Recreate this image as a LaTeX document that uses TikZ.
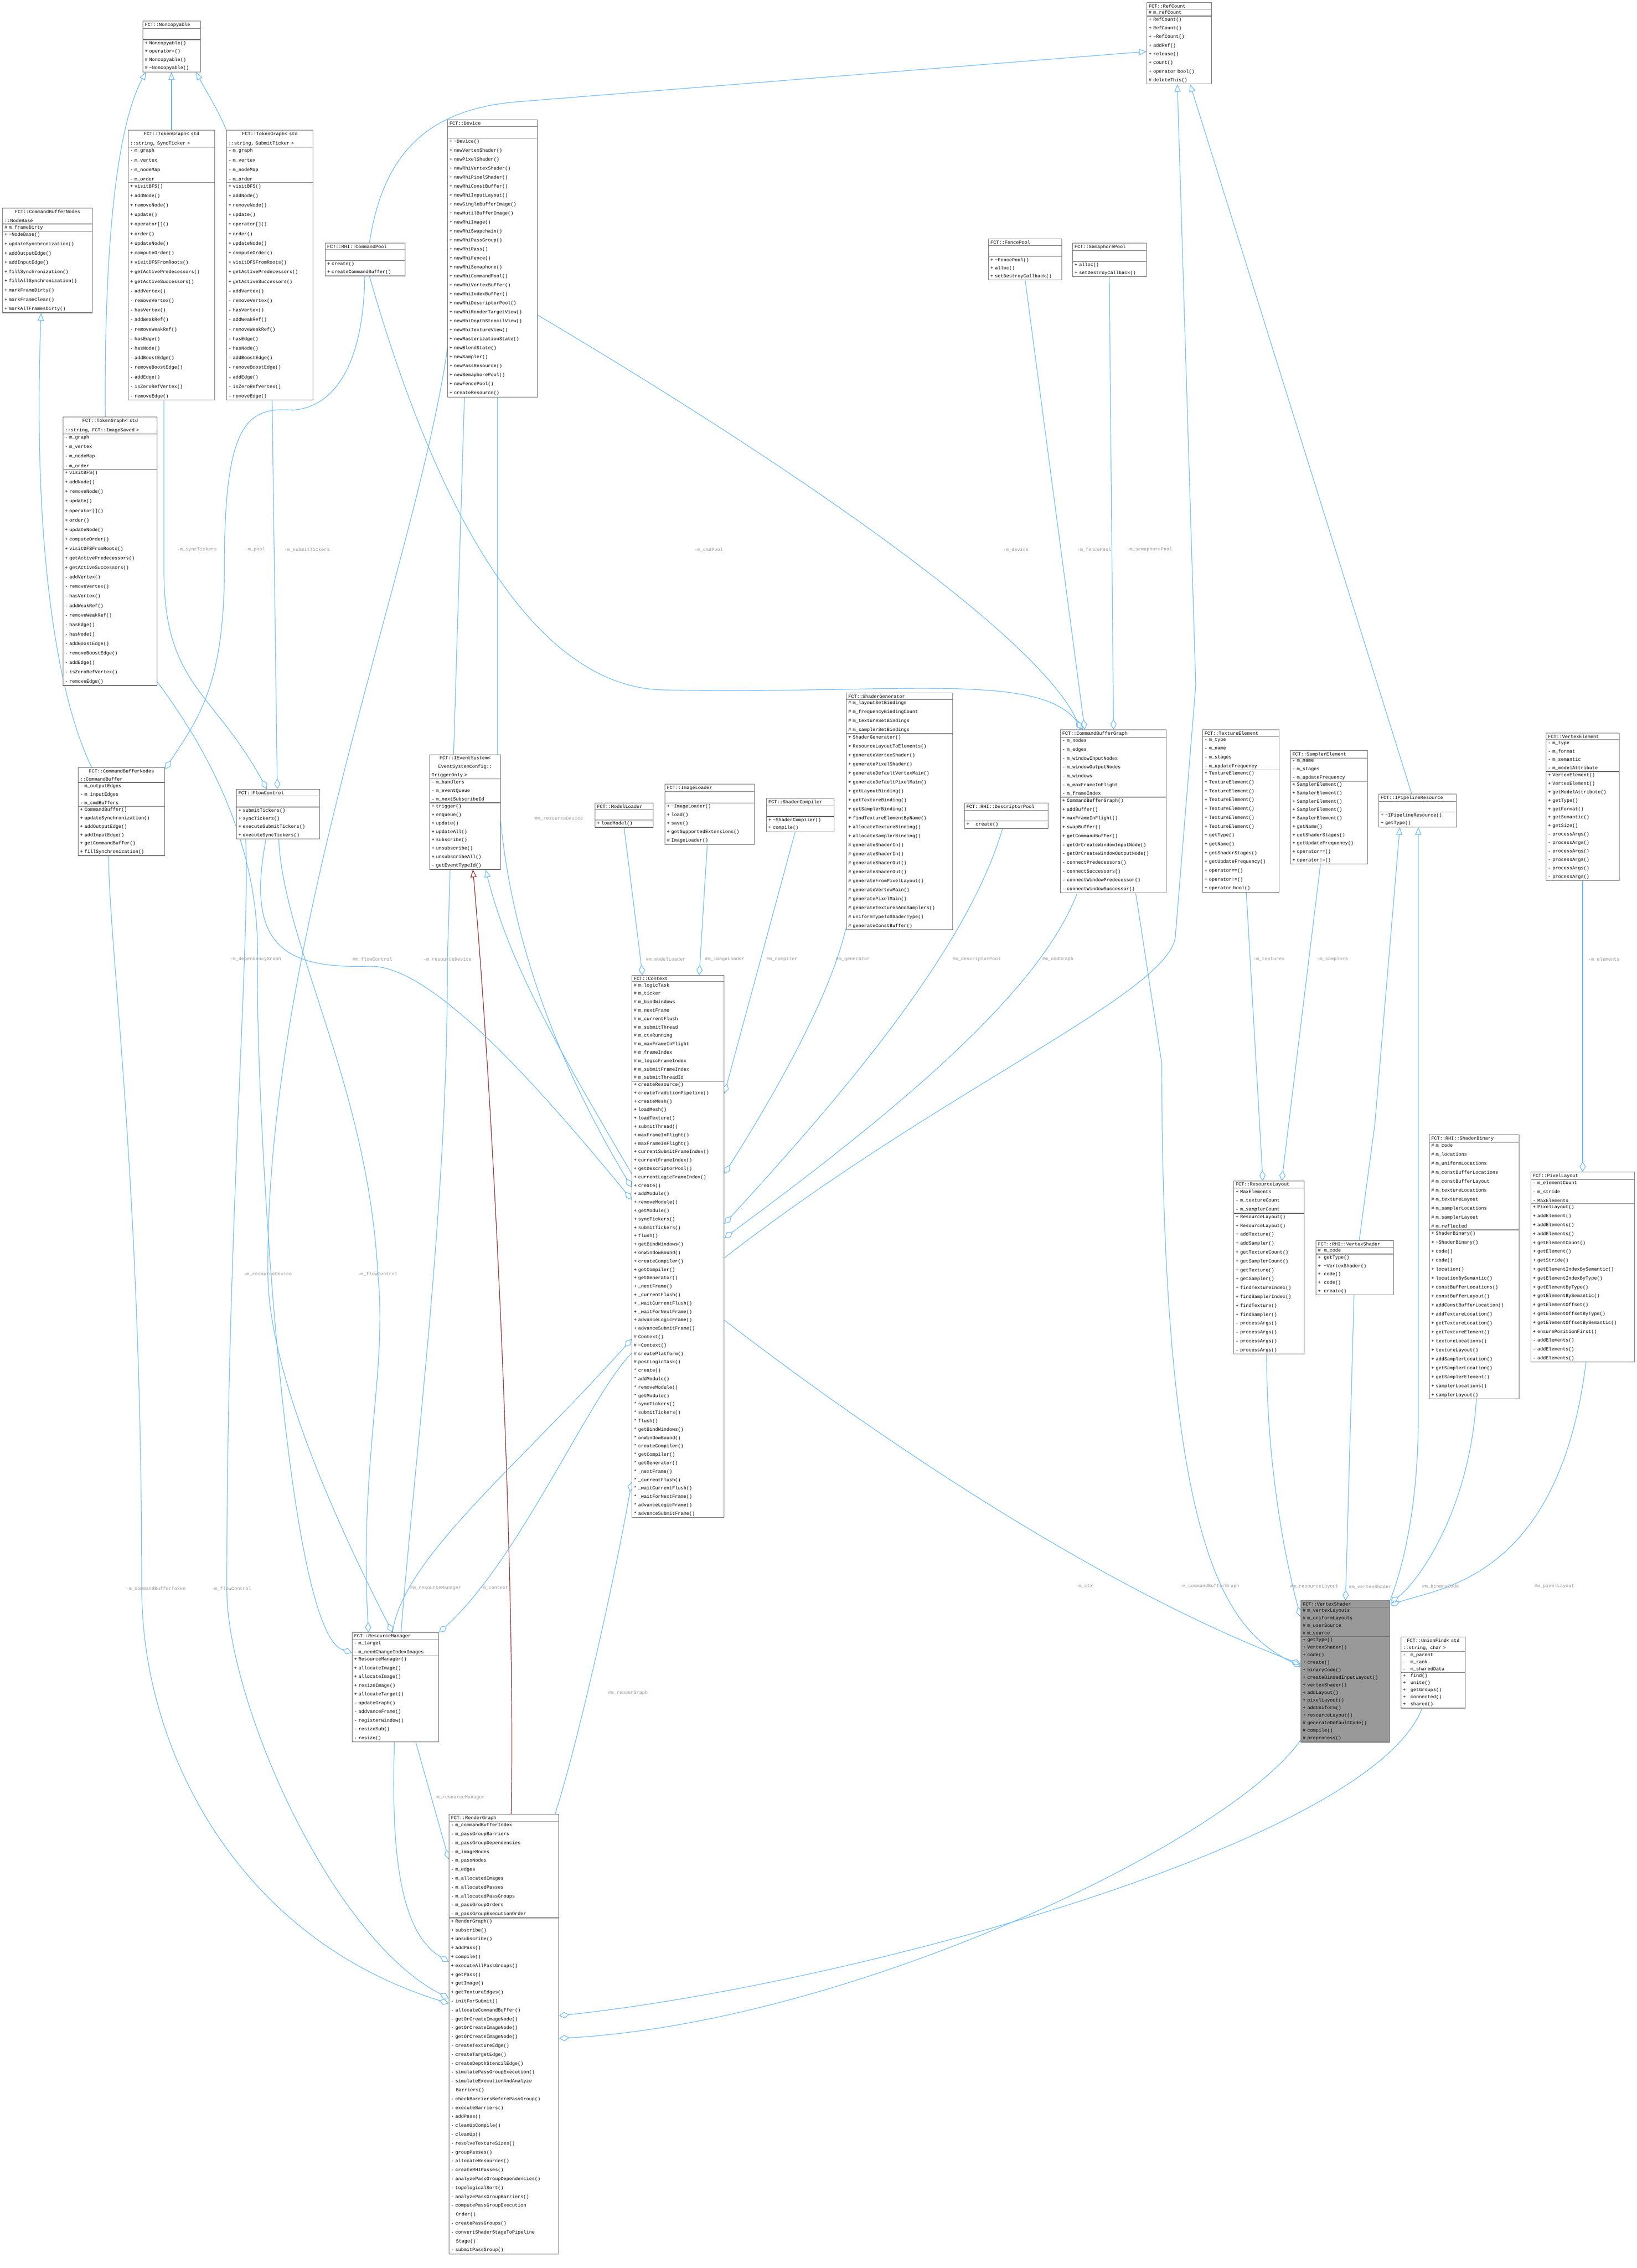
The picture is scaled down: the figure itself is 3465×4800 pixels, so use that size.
\documentclass[tikz,border=0pt]{standalone}
\usepackage{fontspec}
\newfontfamily\mono{Liberation Mono}
\usetikzlibrary{shapes.multipart,arrows.meta,calc}
\definecolor{edgec}{RGB}{99,184,255}
\definecolor{labc}{RGB}{150,150,150}
\definecolor{boxc}{RGB}{105,105,105}
\definecolor{redc}{RGB}{139,26,26}
\definecolor{vsfill}{RGB}{153,153,153}
\pgfdeclarelayer{bg}\pgfsetlayers{bg,main}
\tikzset{
 cls/.style={rectangle split, rectangle split parts=3, draw=boxc, line width=1.3pt, fill=white, anchor=north west, inner xsep=4pt, inner ysep=2.5pt, align=left},
 inh/.style={draw=edgec, line width=1.2pt, -{Triangle[open,length=16pt,width=13pt]}},
 inhred/.style={draw=redc, line width=1.2pt, -{Triangle[open,length=16pt,width=13pt]}},
 use/.style={draw=edgec, line width=1.2pt, {Diamond[open,length=22pt,width=13pt]}-},
 lab/.style={text=labc, font=\mono\fontsize{10}{12}\selectfont, inner sep=0pt}
}
\newcommand\cls[9]{\node[cls,#9,text width=#4pt,font=\mono\fontsize{10}{#5}\selectfont] (#1) at (#2,#3) {\centering #6\nodepart{second}#7\nodepart{third}#8};}
\newcommand\tl{\textasciitilde}
\newcommand\st{\char`\*}
\begin{document}
\begin{tikzpicture}[x=1pt,y=-1pt]
\useasboundingbox (0,0) rectangle (3465,4800);
\begin{pgfonlayer}{bg}
\fill[white] (0,0) rectangle (3465,4800);
\end{pgfonlayer}

\cls{noncop}{302}{44}{114}{17.5}{FCT::Noncopyable}{\strut}{+ Noncopyable()\\+ operator=()\\\# Noncopyable()\\\# \tl Noncopyable()}{}
\cls{sync}{271}{275}{175}{20.2}{FCT::TokenGraph< std\\::string, SyncTicker >}{- m\_graph\\- m\_vertex\\- m\_nodeMap\\- m\_order}{+ visitBFS()\\+ addNode()\\+ removeNode()\\+ update()\\+ operator[]()\\+ order()\\+ updateNode()\\+ computeOrder()\\+ visitDFSFromRoots()\\+ getActivePredecessors()\\+ getActiveSuccessors()\\- addVertex()\\- removeVertex()\\- hasVertex()\\- addWeakRef()\\- removeWeakRef()\\- hasEdge()\\- hasNode()\\- addBoostEdge()\\- removeBoostEdge()\\- addEdge()\\- isZeroRefVertex()\\- removeEdge()}{}
\cls{submit}{479}{275}{175}{20.2}{FCT::TokenGraph< std\\::string, SubmitTicker >}{- m\_graph\\- m\_vertex\\- m\_nodeMap\\- m\_order}{+ visitBFS()\\+ addNode()\\+ removeNode()\\+ update()\\+ operator[]()\\+ order()\\+ updateNode()\\+ computeOrder()\\+ visitDFSFromRoots()\\+ getActivePredecessors()\\+ getActiveSuccessors()\\- addVertex()\\- removeVertex()\\- hasVertex()\\- addWeakRef()\\- removeWeakRef()\\- hasEdge()\\- hasNode()\\- addBoostEdge()\\- removeBoostEdge()\\- addEdge()\\- isZeroRefVertex()\\- removeEdge()}{}
\cls{nodebase}{5}{440}{182}{19.6}{FCT::CommandBufferNodes\\::NodeBase}{\# m\_frameDirty}{+ \tl NodeBase()\\+ updateSynchronization()\\+ addOutputEdge()\\+ addInputEdge()\\+ fillSynchronization()\\+ fillAllSynchronization()\\+ markFrameDirty()\\+ markFrameClean()\\+ markAllFramesDirty()}{}
\cls{imgsaved}{133}{882}{191}{20.1}{FCT::TokenGraph< std\\::string, FCT::ImageSaved >}{- m\_graph\\- m\_vertex\\- m\_nodeMap\\- m\_order}{+ visitBFS()\\+ addNode()\\+ removeNode()\\+ update()\\+ operator[]()\\+ order()\\+ updateNode()\\+ computeOrder()\\+ visitDFSFromRoots()\\+ getActivePredecessors()\\+ getActiveSuccessors()\\- addVertex()\\- removeVertex()\\- hasVertex()\\- addWeakRef()\\- removeWeakRef()\\- hasEdge()\\- hasNode()\\- addBoostEdge()\\- removeBoostEdge()\\- addEdge()\\- isZeroRefVertex()\\- removeEdge()}{}
\cls{cmdbuf}{165}{1624}{175}{17.8}{FCT::CommandBufferNodes\\::CommandBuffer}{- m\_outputEdges\\- m\_inputEdges\\- m\_cmdBuffers}{+ CommandBuffer()\\+ updateSynchronization()\\+ addOutputEdge()\\+ addInputEdge()\\+ getCommandBuffer()\\+ fillSynchronization()}{}
\cls{flow}{500}{1670}{168}{17.3}{FCT::FlowControl}{\strut}{+ submitTickers()\\+ syncTickers()\\+ executeSubmitTickers()\\+ executeSyncTickers()}{}
\cls{cmdpool}{688}{514}{161}{16.8}{FCT::RHI::CommandPool}{\strut}{+ create()\\+ createCommandBuffer()}{}
\cls{device}{947}{253}{182}{19}{FCT::Device}{\strut}{+ \tl Device()\\+ newVertexShader()\\+ newPixelShader()\\+ newRhiVertexShader()\\+ newRhiPixelShader()\\+ newRhiConstBuffer()\\+ newRhiInputLayout()\\+ newSingleBufferImage()\\+ newMutilBufferImage()\\+ newRhiImage()\\+ newRhiSwapchain()\\+ newRhiPassGroup()\\+ newRhiPass()\\+ newRhiFence()\\+ newRhiSemaphore()\\+ newRhiCommandPool()\\+ newRhiVertexBuffer()\\+ newRhiIndexBuffer()\\+ newRhiDescriptorPool()\\+ newRhiRenderTargetView()\\+ newRhiDepthStencilView()\\+ newRhiTextureView()\\+ newRasterizationState()\\+ newBlendState()\\+ newSampler()\\+ newPassResource()\\+ newSemaphorePool()\\+ newFencePool()\\+ createResource()}{}
\cls{refcount}{2427}{5}{129}{18.3}{FCT::RefCount}{\# m\_refCount}{+ RefCount()\\+ RefCount()\\+ \tl RefCount()\\+ addRef()\\+ release()\\+ count()\\+ operator bool()\\\# deleteThis()}{}
\cls{fence}{2092}{505}{147}{17.2}{FCT::FencePool}{\strut}{+ \tl FencePool()\\+ alloc()\\+ setDestroyCallback()}{}
\cls{sema}{2270}{514}{148}{16.8}{FCT::SemaphorePool}{\strut}{+ alloc()\\+ setDestroyCallback()}{}
\cls{ievent}{909}{1597}{142}{17.9}{FCT::IEventSystem<\\EventSystemConfig::\\TriggerOnly >}{- m\_handlers\\- m\_eventQueue\\- m\_nextSubscribeId}{+ trigger()\\+ enqueue()\\+ update()\\+ updateAll()\\+ subscribe()\\+ unsubscribe()\\+ unsubscribeAll()\\- getEventTypeId()}{}
\cls{model}{1259}{1699}{115}{15.7}{FCT::ModelLoader}{\strut}{+ loadModel()}{}
\cls{imgload}{1407}{1659}{181}{18}{FCT::ImageLoader}{\strut}{+ \tl ImageLoader()\\+ load()\\+ save()\\+ getSupportedExtensions()\\\# ImageLoader()}{}
\cls{shcomp}{1622}{1689}{135}{16.5}{FCT::ShaderCompiler}{\strut}{+ \tl ShaderCompiler()\\+ compile()}{}
\cls{shgen}{1791}{1466}{217}{19}{FCT::ShaderGenerator}{\# m\_layoutSetBindings\\\# m\_frequencyBindingCount\\\# m\_textureSetBindings\\\# m\_samplerSetBindings}{+ ShaderGenerator()\\+ ResourceLayoutToElements()\\+ generateVertexShader()\\+ generatePixelShader()\\+ generateDefaultVertexMain()\\+ generateDefaultPixelMain()\\+ getLayoutBinding()\\+ getTextureBinding()\\+ getSamplerBinding()\\+ findTextureElementByName()\\+ allocateTextureBinding()\\+ allocateSamplerBinding()\\\# generateShaderIn()\\\# generateShaderIn()\\\# generateShaderOut()\\\# generateShaderOut()\\\# generateFromPixelLayout()\\\# generateVertexMain()\\\# generatePixelMain()\\\# generateTexturesAndSamplers()\\\# uniformTypeToShaderType()\\\# generateConstBuffer()}{}
\cls{descpool}{2041}{1699}{169}{15.7}{FCT::RHI::DescriptorPool}{\strut}{+ \quad create()}{}
\cls{cbg}{2244}{1544}{216}{18.7}{FCT::CommandBufferGraph}{- m\_nodes\\- m\_edges\\- m\_windowInputNodes\\- m\_windowOutputNodes\\- m\_windows\\- m\_maxFrameInFlight\\- m\_frameIndex}{+ CommandBufferGraph()\\+ addBuffer()\\+ maxFrameInFlight()\\+ swapBuffer()\\+ getCommandBuffer()\\- getOrCreateWindowInputNode()\\- getOrCreateWindowOutputNode()\\- connectPredecessors()\\- connectSuccessors()\\- connectWindowPredecessor()\\- connectWindowSuccessor()}{}
\cls{texel}{2545}{1544}{154}{18.7}{FCT::TextureElement}{- m\_type\\- m\_name\\- m\_stages\\- m\_updateFrequency}{+ TextureElement()\\+ TextureElement()\\+ TextureElement()\\+ TextureElement()\\+ TextureElement()\\+ TextureElement()\\+ TextureElement()\\+ getType()\\+ getName()\\+ getShaderStages()\\+ getUpdateFrequency()\\+ operator==()\\+ operator!=()\\+ operator bool()}{}
\cls{samel}{2731}{1588}{155}{17.7}{FCT::SamplerElement}{- m\_name\\- m\_stages\\- m\_updateFrequency}{+ SamplerElement()\\+ SamplerElement()\\+ SamplerElement()\\+ SamplerElement()\\+ SamplerElement()\\+ getName()\\+ getShaderStages()\\+ getUpdateFrequency()\\+ operator==()\\+ operator!=()}{}
\cls{ipr}{2918}{1680}{156}{16}{FCT::IPipelineResource}{\strut}{+ \tl IPipelineResource()\\+ getType()}{}
\cls{vertel}{3272}{1551}{147}{17.9}{FCT::VertexElement}{- m\_type\\- m\_format\\- m\_semantic\\- m\_modelAttribute}{+ VertexElement()\\+ VertexElement()\\+ getModelAttribute()\\+ getType()\\+ getFormat()\\+ getSemantic()\\+ getSize()\\- processArgs()\\- processArgs()\\- processArgs()\\- processArgs()\\- processArgs()\\- processArgs()}{}
\cls{rlayout}{2611}{2499}{141}{18.8}{FCT::ResourceLayout}{+ MaxElements\\- m\_textureCount\\- m\_samplerCount}{+ ResourceLayout()\\+ ResourceLayout()\\+ addTexture()\\+ addSampler()\\+ getTextureCount()\\+ getSamplerCount()\\+ getTexture()\\+ getSampler()\\+ findTextureIndex()\\+ findSamplerIndex()\\+ findTexture()\\+ findSampler()\\- processArgs()\\- processArgs()\\- processArgs()\\- processArgs()}{}
\cls{rhivs}{2785}{2625}{156}{17.7}{FCT::RHI::VertexShader}{\# \ m\_code}{+ \ getType()\\+ \ \tl VertexShader()\\+ \ code()\\+ \ code()\\+ \ create()}{}
\cls{shbin}{3025}{2401}{182}{19}{FCT::RHI::ShaderBinary}{\# m\_code\\\# m\_locations\\\# m\_uniformLocations\\\# m\_constBufferLocations\\\# m\_constBufferLayout\\\# m\_textureLocations\\\# m\_textureLayout\\\# m\_samplerLocations\\\# m\_samplerLayout\\\# m\_reflected}{+ ShaderBinary()\\+ \tl ShaderBinary()\\+ code()\\+ code()\\+ location()\\+ locationBySemantic()\\+ constBufferLocations()\\+ constBufferLayout()\\+ addConstBufferLocation()\\+ addTextureLocation()\\+ getTextureLocation()\\+ getTextureElement()\\+ textureLocations()\\+ textureLayout()\\+ addSamplerLocation()\\+ getSamplerLocation()\\+ getSamplerElement()\\+ samplerLocations()\\+ samplerLayout()}{}
\cls{pixl}{3240}{2480}{211}{18.8}{FCT::PixelLayout}{- m\_elementCount\\- m\_stride\\- MaxElements}{+ PixelLayout()\\+ addElement()\\+ addElements()\\+ addElements()\\+ getElementCount()\\+ getElement()\\+ getStride()\\+ getElementIndexBySemantic()\\+ getElementIndexByType()\\+ getElementByType()\\+ getElementBySemantic()\\+ getElementOffset()\\+ getElementOffsetByType()\\+ getElementOffsetBySemantic()\\+ ensurePositionFirst()\\- addElements()\\- addElements()\\- addElements()}{}
\cls{vs}{2753}{3387}{180}{16}{FCT::VertexShader}{\# m\_vertexLayouts\\\# m\_uniformLayouts\\\# m\_userSource\\\# m\_source}{+ getType()\\+ VertexShader()\\+ code()\\+ create()\\+ binaryCode()\\+ createBindedInputLayout()\\+ vertexShader()\\+ addLayout()\\+ pixelLayout()\\+ addUniform()\\+ resourceLayout()\\\# generateDefaultCode()\\\# compile()\\\# preprocess()}{fill=vsfill}
\cls{uf}{2965}{3464}{128}{15}{FCT::UnionFind< std\\::string, char >}{- \ \ m\_parent\\- \ \ m\_rank\\- \ \ m\_sharedData}{+ \ \ find()\\+ \ \ unite()\\+ \ \ getGroups()\\+ \ \ connected()\\+ \ \ shared()}{}
\cls{rm}{745}{3455}{175}{18.5}{FCT::ResourceManager}{- m\_target\\- m\_needChangeIndexImages}{+ ResourceManager()\\+ allocateImage()\\+ allocateImage()\\+ resizeImage()\\+ allocateTarget()\\- updateGraph()\\- addvanceFrame()\\- registerWindow()\\- resizeSub()\\- resize()}{}
\cls{rg}{950}{3839}{224}{18.8}{FCT::RenderGraph}{- m\_commandBufferIndex\\- m\_passGroupBarriers\\- m\_passGroupDependencies\\- m\_imageNodes\\- m\_passNodes\\- m\_edges\\- m\_allocatedImages\\- m\_allocatedPasses\\- m\_allocatedPassGroups\\- m\_passGroupOrders\\- m\_passGroupExecutionOrder}{+ RenderGraph()\\+ subscribe()\\+ unsubscribe()\\+ addPass()\\+ compile()\\+ executeAllPassGroups()\\+ getPass()\\+ getImage()\\+ getTextureEdges()\\- initForSubmit()\\- allocateCommandBuffer()\\- getOrCreateImageNode()\\- getOrCreateImageNode()\\- getOrCreateImageNode()\\- createTextureEdge()\\- createTargetEdge()\\- createDepthStencilEdge()\\- simulatePassGroupExecution()\\- simulateExecutionAndAnalyze\\\hspace*{2ex}Barriers()\\- checkBarriersBeforePassGroup()\\- executeBarriers()\\- addPass()\\- cleanUpCompile()\\- cleanUp()\\- resolveTextureSizes()\\- groupPasses()\\- allocateResources()\\- createRHIPasses()\\- analyzePassGroupDependencies()\\- topologicalSort()\\- analyzePassGroupBarriers()\\- computePassGroupExecution\\\hspace*{2ex}Order()\\- createPassGroups()\\- convertShaderStageToPipeline\\\hspace*{2ex}Stage()\\- submitPassGroup()}{}
\cls{ctx}{1337}{2064}{187}{17.8}{FCT::Context}{\# m\_logicTask\\\# m\_ticker\\\# m\_bindWindows\\\# m\_nextFrame\\\# m\_currentFlush\\\# m\_submitThread\\\# m\_ctxRunning\\\# m\_maxFrameInFlight\\\# m\_frameIndex\\\# m\_logicFrameIndex\\\# m\_submitFrameIndex\\\# m\_submitThreadId}{+ createResource()\\+ createTraditionPipeline()\\+ createMesh()\\+ loadMesh()\\+ loadTexture()\\+ submitThread()\\+ maxFrameInFlight()\\+ maxFrameInFlight()\\+ currentSubmitFrameIndex()\\+ currentFrameIndex()\\+ getDescriptorPool()\\+ currentLogicFrameIndex()\\+ create()\\+ addModule()\\+ removeModule()\\+ getModule()\\+ syncTickers()\\+ submitTickers()\\+ flush()\\+ getBindWindows()\\+ onWindowBound()\\+ createCompiler()\\+ getCompiler()\\+ getGenerator()\\+ \_nextFrame()\\+ \_currentFlush()\\+ \_waitCurrentFlush()\\+ \_waitForNextFrame()\\+ advanceLogicFrame()\\+ advanceSubmitFrame()\\\# Context()\\\# \tl Context()\\\# createPlatform()\\\# postLogicTask()\\\st{} create()\\\st{} addModule()\\\st{} removeModule()\\\st{} getModule()\\\st{} syncTickers()\\\st{} submitTickers()\\\st{} flush()\\\st{} getBindWindows()\\\st{} onWindowBound()\\\st{} createCompiler()\\\st{} getCompiler()\\\st{} getGenerator()\\\st{} \_nextFrame()\\\st{} \_currentFlush()\\\st{} \_waitCurrentFlush()\\\st{} \_waitForNextFrame()\\\st{} advanceLogicFrame()\\\st{} advanceSubmitFrame()}{}

\begin{pgfonlayer}{bg}
% inheritance
\draw[inh] ($(sync.north west)+(92,0)$) -- ($(noncop.south west)+(61,0)$);
\draw[inh] (submit.north west) .. controls (460,230) and (440,200) .. ($(noncop.south east)+(-10,0)$);
\draw[inh] ($(imgsaved.north west)+(90,0)$) .. controls (220,500) and (250,260) .. ($(noncop.south west)+(7,0)$);
\draw[inh] ($(cmdbuf.north west)+(29,0)$) .. controls (110,1450) and (70,1100) .. ($(nodebase.south west)+(82,0)$);
\draw[inh] ($(cmdpool.north west)+(94,0)$) .. controls (810,330) and (900,230) .. (1100,215) -- ($(refcount.north west)+(0,104)$);
\draw[inh] ($(ctx.north east)+(0,598)$) .. controls (2000,2300) and (2480,2100) .. (2488,1980) -- (2531,1450) -- ($(refcount.south west)+(65,0)$);
\draw[inh] ($(ipr.north west)+(70,0)$) -- ($(refcount.south west)+(92,0)$);
\draw[inh] ($(rhivs.north west)+(92,0)$) -- (2910,2380) -- ($(ipr.south west)+(45,0)$);
\draw[inh] (vs.north east) .. controls (2965,3330) and (3002,3200) .. (3002,3000) -- ($(ipr.south west)+(84,0)$);
\draw[inhred] ($(rg.north west)+(132,0)$) .. controls (1092,3400) and (1050,2400) .. ($(ievent.south west)+(92,0)$);
\draw[inh] ($(ctx.north west)+(0,420)$) .. controls (1200,2250) and (1080,2050) .. ($(ievent.south west)+(119,0)$);
% usage
\draw[use] ($(flow.north west)+(65,0)$) .. controls (450,1460) and (345,1450) .. (347,1200) -- ($(sync.south west)+(76,0)$);
\draw[use] ($(flow.north west)+(87,0)$) -- ($(submit.south west)+(97,0)$);
\draw[use] ($(cmdbuf.north east)+(0,4)$) .. controls (420,1520) and (475,1450) .. (475,1200) .. controls (475,900) and (520,860) .. (620,868) .. controls (720,860) and (770,750) .. ($(cmdpool.south west)+(84,0)$);
\draw[use] ($(cbg.north west)+(44,0)$) .. controls (2200,1350) and (1700,1000) .. ($(device.north east)+(0,414)$);
\draw[use] ($(cbg.north west)+(48,0)$) .. controls (2200,1420) and (1900,1470) .. (1400,1460) .. controls (1100,1450) and (900,1000) .. ($(cmdpool.south west)+(94,0)$);
\draw[use] ($(cbg.north west)+(52,0)$) -- ($(fence.south west)+(78,0)$);
\draw[use] ($(cbg.north west)+(113,0)$) -- ($(sema.south west)+(78,0)$);
\draw[use] ($(ctx.north west)+(23,0)$) -- ($(model.south west)+(62,0)$);
\draw[use] ($(ctx.north west)+(143,0)$) -- ($(imgload.south west)+(90,0)$);
\draw[use] ($(ctx.north east)+(0,250)$) -- ($(shcomp.south west)+(61,0)$);
\draw[use] ($(ctx.north east)+(0,420)$) .. controls (1650,2300) and (1760,2100) .. ($(shgen.south west)+(0,-6)$);
\draw[use] ($(ctx.north east)+(0,526)$) .. controls (1800,2300) and (2050,2000) .. ($(descpool.south west)+(81,0)$);
\draw[use] ($(ctx.north east)+(0,556)$) .. controls (1900,2350) and (2200,2100) .. ($(cbg.south west)+(36,0)$);
\draw[use] ($(ctx.north west)+(0,449)$) .. controls (1150,2200) and (1053,1900) .. (1053,1600) -- ($(device.south west)+(106,0)$);
\draw[use] ($(ctx.north west)+(0,475)$) .. controls (1100,2250) and (900,2040) .. (780,2045) .. controls (600,2050) and (520,2000) .. ($(flow.south west)+(63,0)$);
\draw[use] ($(ctx.north west)+(0,770)$) .. controls (1100,3100) and (850,3300) .. ($(rm.north west)+(86,0)$);
\draw[use] (rm.north east) .. controls (1100,3300) and (1250,2950) .. ($(ctx.north west)+(0,800)$);
\draw[use] ($(ctx.north west)+(0,1072)$) .. controls (1300,3350) and (1220,3700) .. ($(rg.north west)+(225,0)$);
\draw[use] ($(vs.north west)+(0,135)$) .. controls (2300,3350) and (1800,3000) .. ($(ctx.north east)+(0,730)$);
\draw[use] ($(vs.north west)+(0,140)$) .. controls (2600,3450) and (2460,3300) .. (2459,2250) -- ($(cbg.south west)+(160,0)$);
\draw[use] ($(vs.north west)+(0,35)$) .. controls (2720,3300) and (2681,3100) .. ($(rlayout.south west)+(70,0)$);
\draw[use] ($(vs.north west)+(95,0)$) -- ($(rhivs.south west)+(81,0)$);
\draw[use] ($(vs.north east)+(0,5)$) .. controls (3000,3350) and (3110,3200) .. ($(shbin.south west)+(100,0)$);
\draw[use] ($(vs.north east)+(0,10)$) .. controls (3050,3360) and (3300,3340) .. ($(pixl.south west)+(117,0)$);
\draw[use] ($(rlayout.north west)+(62,0)$) -- ($(texel.south west)+(93,0)$);
\draw[use] ($(rlayout.north west)+(102,0)$) -- ($(samel.south west)+(64,0)$);
\draw[use] ($(pixl.north west)+(110,0)$) -- ($(vertel.south west)+(78,0)$);
\draw[use] ($(rm.north west)+(35,0)$) .. controls (760,3100) and (820,2900) .. (800,2700) .. controls (780,2300) and (600,2000) .. ($(flow.south west)+(90,0)$);
\draw[use] ($(rm.north west)+(86,0)$) .. controls (700,3200) and (570,2900) .. (567,2700) .. controls (560,2000) and (880,1200) .. ($(device.north west)+(0,485)$);
\draw[use] ($(rm.north west)+(0,43)$) .. controls (600,3450) and (540,2300) .. (545,2030) .. controls (550,1800) and (450,1600) .. ($(imgsaved.south east)+(0,-8)$);
\draw[use] ($(rg.north west)+(0,96)$) -- ($(rm.south west)+(135,0)$);
\draw[use] ($(rg.north west)+(0,313)$) .. controls (700,4000) and (950,3000) .. (947,2030) -- ($(device.south west)+(36,0)$);
\draw[use] ($(rg.north west)+(0,390)$) .. controls (700,4100) and (480,3600) .. (480,3362) .. controls (480,2600) and (530,2000) .. ($(flow.south west)+(20,0)$);
\draw[use] ($(rg.north west)+(0,401)$) .. controls (500,4100) and (300,3700) .. (300,3362) .. controls (300,2500) and (230,2000) .. ($(cmdbuf.south west)+(65,0)$);
\draw[use] ($(rg.north east)+(0,427)$) .. controls (1800,4200) and (2900,3900) .. ($(uf.south west)+(45,0)$);
\draw[use] ($(rg.north east)+(0,475)$) .. controls (1800,4280) and (2600,3900) .. ($(vs.south west)+(0,-5)$);
\end{pgfonlayer}

% labels
\node[lab] (l1) at (417,1163) {-m\_syncTickers};
\node[lab] (l2) at (540,1163) {-m\_pool};
\node[lab] (l3) at (650,1163) {-m\_submitTickers};
\node[lab] (l4) at (1500,1163) {-m\_cmdPool};
\node[lab] (l5) at (2150,1163) {-m\_device};
\node[lab] (l6) at (2316,1163) {-m\_fencePool};
\node[lab] (l7) at (2433,1163) {-m\_semaphorePool};
\node[lab] (l8) at (1183,1732) {\#m\_resourceDevice};
\node[lab] (l9) at (541,2030) {-m\_dependencyGraph};
\node[lab] (l10) at (788,2030) {\#m\_flowControl};
\node[lab] (l11) at (947,2030) {-m\_resourceDevice};
\node[lab] (l12) at (1409,2030) {\#m\_modelLoader};
\node[lab] (l13) at (1534,2030) {\#m\_imageLoader};
\node[lab] (l14) at (1655,2030) {\#m\_compiler};
\node[lab] (l15) at (1805,2030) {\#m\_generator};
\node[lab] (l16) at (2067,2030) {\#m\_descriptorPool};
\node[lab] (l17) at (2239,2030) {\#m\_cmdGraph};
\node[lab] (l18) at (2686,2030) {-m\_textures};
\node[lab] (l19) at (2820,2030) {-m\_samplers};
\node[lab] (l20) at (3395,2030) {-m\_elements};
\node[lab] (l21) at (567,2696) {-m\_resourceDevice};
\node[lab] (l22) at (799,2696) {-m\_flowControl};
\node[lab] (l23) at (330,3362) {-m\_commandBufferToken};
\node[lab] (l24) at (490,3362) {-m\_flowControl};
\node[lab] (l25) at (922,3361) {\#m\_resourceManager};
\node[lab] (l26) at (1046,3361) {-m\_context};
\node[lab] (l27) at (2295,3357) {-m\_ctx};
\node[lab] (l28) at (2560,3357) {-m\_commandBufferGraph};
\node[lab] (l29) at (2782,3358) {\#m\_resourceLayout};
\node[lab] (l30) at (2900,3358) {\#m\_vertexShader};
\node[lab] (l31) at (3049,3358) {\#m\_binaryCode};
\node[lab] (l32) at (3290,3357) {\#m\_pixelLayout};
\node[lab] (l33) at (1329,3583) {\#m\_renderGraph};
\node[lab] (l34) at (972,3804) {-m\_resourceManager};
\end{tikzpicture}
\end{document}
